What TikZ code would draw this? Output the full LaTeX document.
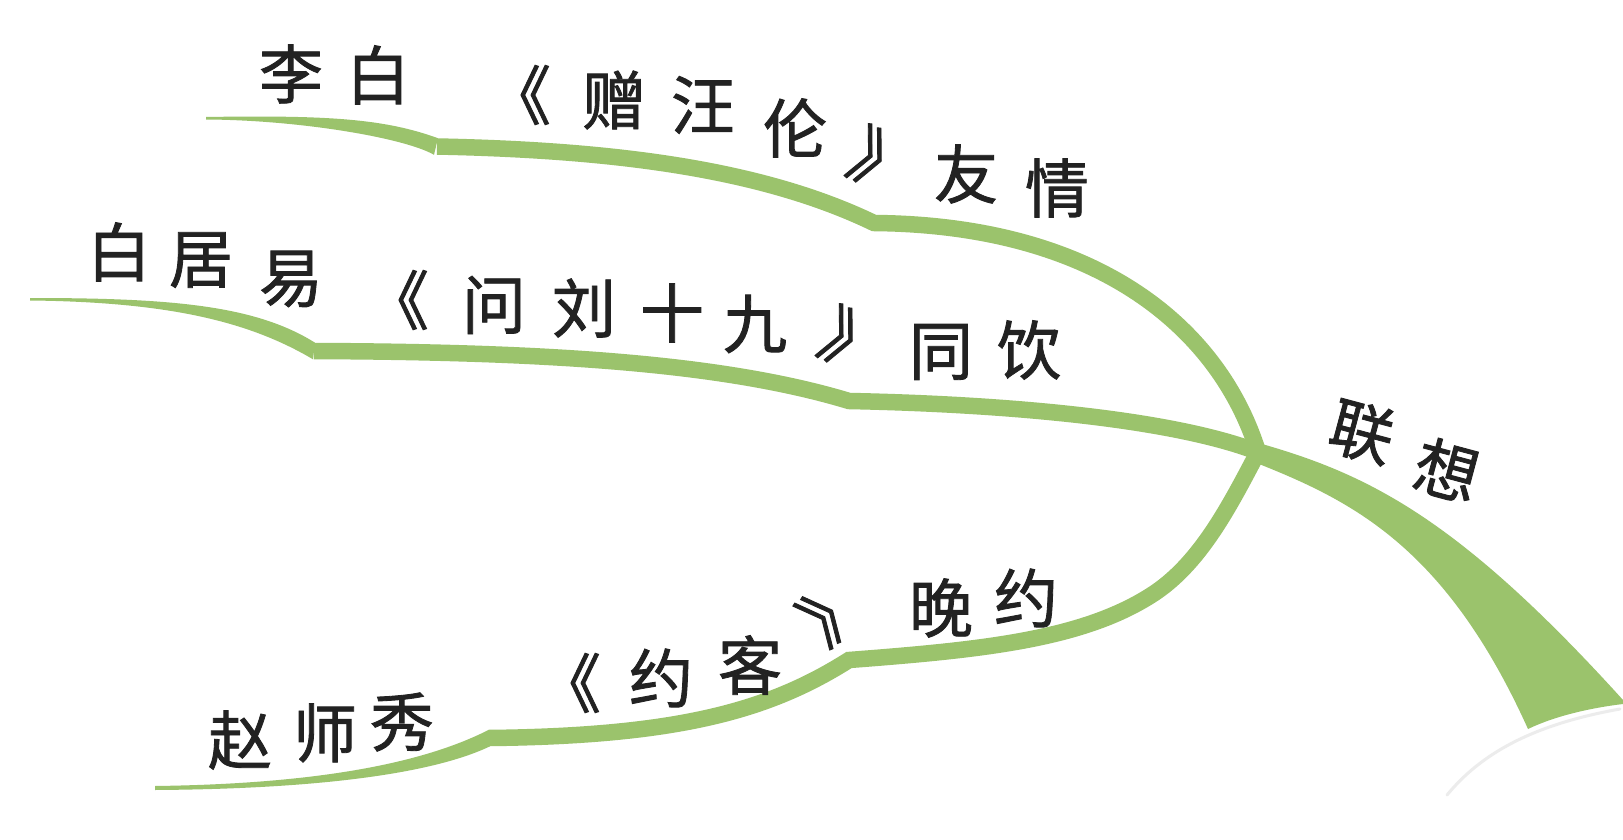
\documentclass[tikz,border=0pt]{standalone}
\usepackage{fontspec}
\newfontfamily\cjk[FakeBold=1.3]{Noto Sans CJK SC}
\definecolor{leaf}{RGB}{155,195,108}
\definecolor{ink}{RGB}{34,34,34}
\begin{document}
\begin{tikzpicture}[x=1pt,y=-1pt,
  branch/.style={draw=leaf,line width=16.5pt,line join=miter},
  taper/.style={fill=leaf,draw=none},
  ch/.style={font=\cjk\fontsize{64}{70}\selectfont,text=ink,inner sep=0pt,anchor=center}]
\useasboundingbox (0,0) rectangle (1623,840);
\fill[white] (0,0) rectangle (1623,840);

% junction and kinks
\coordinate (J) at (1258,452);
\coordinate (b1k1) at (437,146.5);
\coordinate (b1k2) at (874,223);
\coordinate (b2k1) at (314,351);
\coordinate (b2k2) at (849,401);
\coordinate (b3k1) at (489,738);
\coordinate (b3k2) at (849,660);

% branch 1
\fill[taper] (206,117) .. controls (330,115) and (385,119) .. (438,138.2) -- (434,154.8) .. controls (405,138) and (300,120) .. (206,119.5) -- cycle;
\draw[branch] (b1k1) .. controls (610,150) and (760,168) .. (b1k2) .. controls (1100,225) and (1220,330) .. (J);

% branch 2
\fill[taper] (30,298) .. controls (170,298) and (255,305) .. (315,342.7) -- (313,359.3) .. controls (250,322) and (170,302) .. (30,300.5) -- cycle;
\draw[branch] (b2k1) .. controls (540,352) and (720,362) .. (b2k2) .. controls (1000,404) and (1170,418) .. (J);

% branch 3
\fill[taper] (155,786) .. controls (310,784) and (420,765) .. (489,729.7) -- (490,746.3) .. controls (430,775) and (310,789) .. (155,790) -- cycle;
\draw[branch] (b3k1) .. controls (680,736) and (770,710) .. (b3k2) .. controls (980,650) and (1080,640) .. (1150,596) .. controls (1200,565) and (1230,505) .. (J);

% junction and trunk
\fill[leaf] (J) circle (8.5);
\fill[leaf] (1250,445) -- (1262,444) .. controls (1370,475) and (1460,520) .. (1623,700) -- (1623,704) .. controls (1590,708) and (1555,716) .. (1528,729) .. controls (1445,545) and (1350,500) .. (1254,462) -- cycle;
\draw[gray!15,line width=3pt,line cap=round] (1447,795) .. controls (1480,755) and (1530,725) .. (1620,709);

% line 1
\node[ch] (l1a) at (291,74) {李};
\node[ch] (l1b) at (378,75) {白};
\node[ch] (l1c) at (519,95) {《};
\node[ch] (l1d) at (614,100) {赠};
\node[ch] (l1e) at (703,105) {汪};
\node[ch] (l1f) at (795,128) {伦};
\node[ch,rotate=-25] (l1g) at (883,162) {》};
\node[ch] (l1h) at (966,174) {友};
\node[ch] (l1i) at (1057,188) {情};

% line 2
\node[ch] (l2a) at (119,252) {白};
\node[ch] (l2b) at (201,260) {居};
\node[ch] (l2c) at (291,279) {易};
\node[ch] (l2d) at (397,300) {《};
\node[ch] (l2e) at (494,305) {问};
\node[ch] (l2f) at (584,308) {刘};
\node[ch] (l2g) at (672,313) {十};
\node[ch] (l2h) at (755,324) {九};
\node[ch,rotate=-25] (l2i) at (854,342) {》};
\node[ch] (l2j) at (941,352) {同};
\node[ch] (l2k) at (1029,350) {饮};

% line 3
\node[ch] (l3a) at (240,740) {赵};
\node[ch] (l3b) at (325,733) {师};
\node[ch] (l3c) at (402,722) {秀};
\node[ch] (l3d) at (569,683) {《};
\node[ch] (l3e) at (661,678) {约};
\node[ch] (l3f) at (750,665) {客};
\node[ch,rotate=40] (l3g) at (834,609) {》};
\node[ch] (l3h) at (941,608) {晚};
\node[ch] (l3i) at (1026,598) {约};

% central label
\node[ch,rotate=-15] (c1) at (1362,432) {联};
\node[ch,rotate=-15] (c2) at (1447,470) {想};
\end{tikzpicture}
\end{document}
